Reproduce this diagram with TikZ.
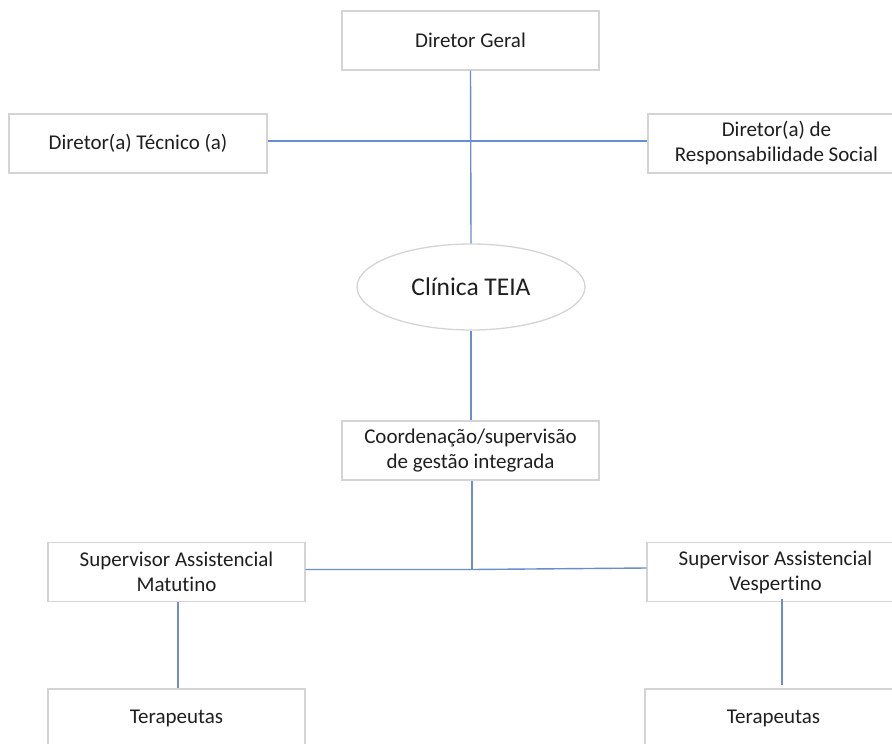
\documentclass[tikz,border=0pt]{standalone}
\usepackage{fontspec}
\setmainfont[Ligatures=NoCommon]{Carlito}
\usetikzlibrary{shapes.geometric}
\definecolor{boxgray}{HTML}{D4D4D4}
\definecolor{linkblue}{HTML}{6A8CD0}
\begin{document}
\begin{tikzpicture}[x=1pt,y=-1pt,
  orgbox/.style={draw=boxgray,line width=1.3pt,fill=white,minimum width=257pt,minimum height=59pt,inner sep=0pt,align=center,font=\fontsize{21}{25}\selectfont,text=black!88},
  link/.style={draw=linkblue,line width=1.4pt}]
\useasboundingbox (0,0) rectangle (892,744);
\clip (0,0) rectangle (892,744);
\fill[white] (0,0) rectangle (892,744);
\node[orgbox] (geral) at (470.5,40.5) {Diretor Geral};
\node[orgbox,minimum width=258pt] (tec) at (138,143.5) {Diretor(a) Técnico (a)};
\node[orgbox] (resp) at (776.5,143.5) {Diretor(a) de\\Responsabilidade Social};
\node[draw=boxgray,line width=1.3pt,fill=white,ellipse,minimum width=228pt,minimum height=86pt,inner sep=0pt,font=\fontsize{25.5}{28}\selectfont,text=black!88] (clin) at (471,287) {Clínica TEIA};
\node[orgbox] (coord) at (470.5,450.5) {Coordenação/supervisão\\de gestão integrada};
\node[orgbox] (matu) at (176.5,572) {Supervisor Assistencial\\Matutino};
\node[orgbox] (vesp) at (775.5,572) {Supervisor Assistencial\\Vespertino};
\node[orgbox] (terL) at (176.5,718.5) {Terapeutas};
\node[orgbox] (terR) at (773.5,718.5) {Terapeutas};
\coordinate (cross) at (470.5,141);
\coordinate (junc) at (472,569.5);
\draw[link] (geral.south) -- (clin.north);
\draw[link] (tec.east |- cross) -- (resp.west |- cross);
\draw[link] (clin.south) -- (coord.north -| clin.south);
\draw[link] (coord.south -| junc) -- (junc);
\draw[link] (matu.east |- junc) -- (junc) -- ([yshift=1.5pt]vesp.west |- junc);
\draw[link] (matu.south -| 178,0) -- (terL.north -| 178,0);
\draw[link] ([yshift=3pt]vesp.south -| 782,0) -- ([yshift=3pt]terR.north -| 782,0);
\end{tikzpicture}
\end{document}
